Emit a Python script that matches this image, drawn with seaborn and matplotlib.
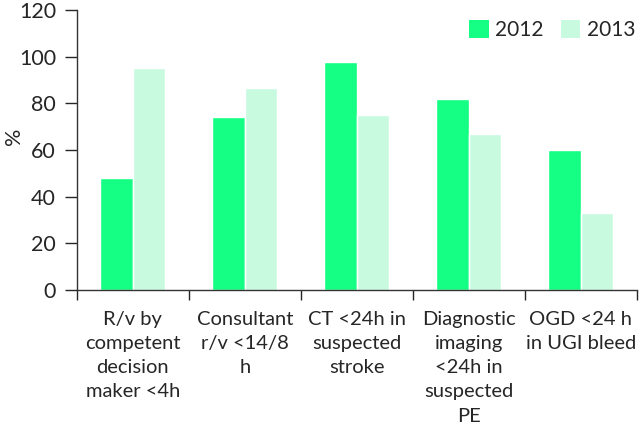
import matplotlib
matplotlib.use("Agg")
import matplotlib.pyplot as plt
import seaborn as sns
import pandas as pd
from matplotlib.patches import Patch

categories = ["R/v by\ncompetent\ndecision\nmaker <4h",
              "Consultant\nr/v <14/8\nh",
              "CT <24h in\nsuspected\nstroke",
              "Diagnostic\nimaging\n<24h in\nsuspected\nPE",
              "OGD <24 h\nin UGI bleed"]
years = ["2012", "2013"]
values_2012 = [48, 74, 97.5, 82, 60]
values_2013 = [95, 86.5, 75, 67, 33]
colors = ["#14FF84", "#C8FAE0"]

df = pd.DataFrame({
    "cat": categories * 2,
    "year": [years[0]] * 5 + [years[1]] * 5,
    "val": values_2012 + values_2013,
})

sns.set_style("white")
plt.rcParams["font.family"] = ["Lato", "DejaVu Sans"]

fig = plt.figure(figsize=(6.4, 4.3), dpi=100)
ax = fig.add_axes([0.12, 0.326, 0.875, 0.651])
sns.barplot(data=df, x="cat", y="val", hue="year", palette=colors,
            width=0.58, saturation=1, ax=ax, legend=False)

ax.set_ylim(0, 120)
ax.set_xlim(-0.5, 4.5)
ax.set_yticks(range(0, 121, 20))
ax.tick_params(axis="y", labelsize=15.5, length=9, width=1, direction="out", left=True, pad=6)
ax.set_xticks(range(5))
ax.set_xticklabels(categories, fontsize=14.5, linespacing=1.52)
ax.tick_params(axis="x", length=0, pad=15)
ax.set_xticks([i + 0.5 for i in range(-1, 5)], minor=True)
ax.tick_params(axis="x", which="minor", length=7, width=1, direction="out", bottom=True)
ax.set_xlabel("")
ax.set_ylabel("%", fontsize=15.5)
ax.yaxis.set_label_coords(-0.095, 0.55)

for s in ["top", "right"]:
    ax.spines[s].set_visible(False)
for s in ["left", "bottom"]:
    ax.spines[s].set_color("#333333")
    ax.spines[s].set_linewidth(1)

handles = [Patch(facecolor=c, edgecolor="none") for c in colors]
ax.legend(handles, years, loc="upper right", bbox_to_anchor=(1.012, 0.995),
          ncol=2, frameon=False, fontsize=15, handlelength=0.95, handleheight=0.95,
          handletextpad=0.3, columnspacing=0.8, borderaxespad=0)

fig.savefig("out.png", dpi=100)
